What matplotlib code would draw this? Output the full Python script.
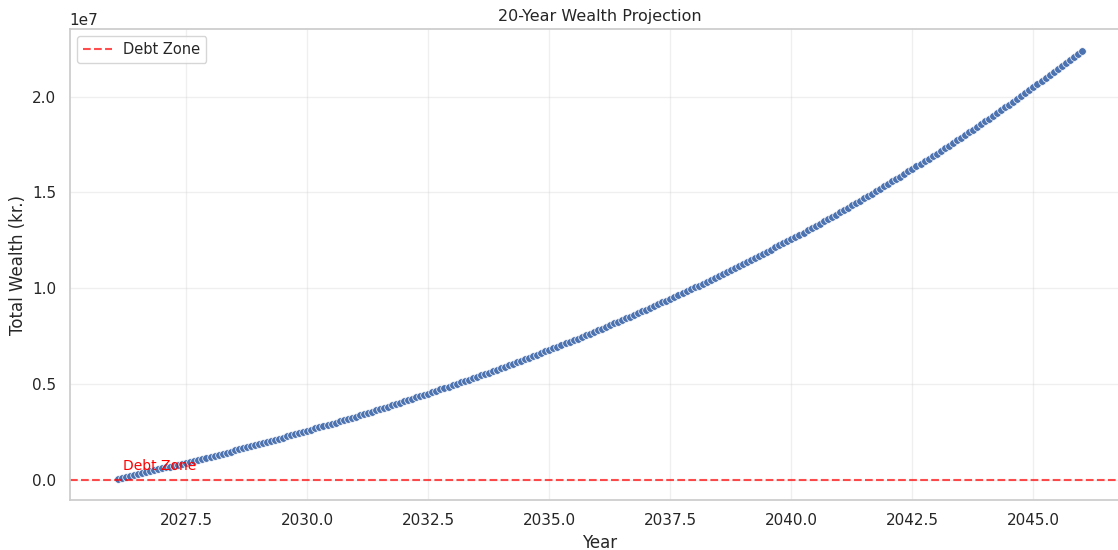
import numpy as np
import matplotlib
matplotlib.use("Agg")
import matplotlib.pyplot as plt
import seaborn as sns

# total wealth per month, in units of 10,000 kr (Feb 2026 .. Jan 2046)
wealth_10k = [
    5, 9, 14, 19, 24, 28, 33, 38, 43, 48, 53,
    58, 63, 68, 73, 78, 83, 88, 93, 98, 104, 109, 114,
    119, 125, 130, 135, 141, 146, 152, 157, 163, 168, 174, 179,
    185, 190, 196, 202, 208, 213, 219, 225, 231, 237, 243, 249,
    255, 261, 267, 273, 279, 285, 291, 297, 304, 310, 316, 323,
    329, 335, 342, 348, 355, 361, 368, 374, 381, 388, 394, 401,
    408, 415, 422, 429, 435, 442, 449, 456, 464, 471, 478, 485,
    492, 500, 507, 514, 522, 529, 536, 544, 551, 559, 567, 574,
    582, 590, 597, 605, 613, 621, 629, 637, 645, 653, 661, 669,
    677, 686, 694, 702, 711, 719, 728, 736, 745, 753, 762, 770,
    779, 788, 797, 806, 815, 823, 832, 842, 851, 860, 869, 878,
    887, 897, 906, 916, 925, 935, 944, 954, 964, 973, 983, 993,
    1003, 1013, 1023, 1033, 1043, 1053, 1063, 1074, 1084, 1094, 1105, 1115,
    1126, 1136, 1147, 1158, 1168, 1179, 1190, 1201, 1212, 1223, 1234, 1245,
    1256, 1268, 1279, 1290, 1302, 1313, 1325, 1337, 1348, 1360, 1372, 1384,
    1396, 1408, 1420, 1432, 1444, 1456, 1469, 1481, 1493, 1506, 1519, 1531,
    1544, 1557, 1570, 1582, 1595, 1609, 1622, 1635, 1648, 1661, 1675, 1688,
    1702, 1715, 1729, 1743, 1757, 1771, 1785, 1799, 1813, 1827, 1841, 1856,
    1870, 1885, 1899, 1914, 1928, 1943, 1958, 1973, 1988, 2003, 2018, 2034,
    2049, 2065, 2080, 2096, 2111, 2127, 2143, 2159, 2175, 2191, 2207, 2223,
    2240,
]
start_year = 2026

sns.set_theme(style="whitegrid")

years = start_year + np.arange(1, len(wealth_10k) + 1) / 12
wealth = np.array(wealth_10k) * 1e4

fig = plt.figure(figsize=(11.18, 5.5), dpi=100)
# the original is cut off on the right, so the axes runs past the figure edge
ax = fig.add_axes([0.0622, 0.0909, 0.9486, 0.856])
sns.scatterplot(x=years, y=wealth, ax=ax, color="#4c72b0", s=30, edgecolor="white", linewidth=0.5)
ax.axhline(0, color="red", linestyle="--", alpha=0.7, label="Debt Zone")
ax.text(start_year + 0.2, 5e5, "Debt Zone", color="red", fontsize=10)

ax.set_title("20-Year Wealth Projection", fontsize=11.5)
ax.set_xlabel("Year")
ax.set_ylabel("Total Wealth (kr.)")
ax.legend(loc="upper left", fontsize=10.5)
ax.grid(alpha=0.3)

plt.savefig("out.png")
